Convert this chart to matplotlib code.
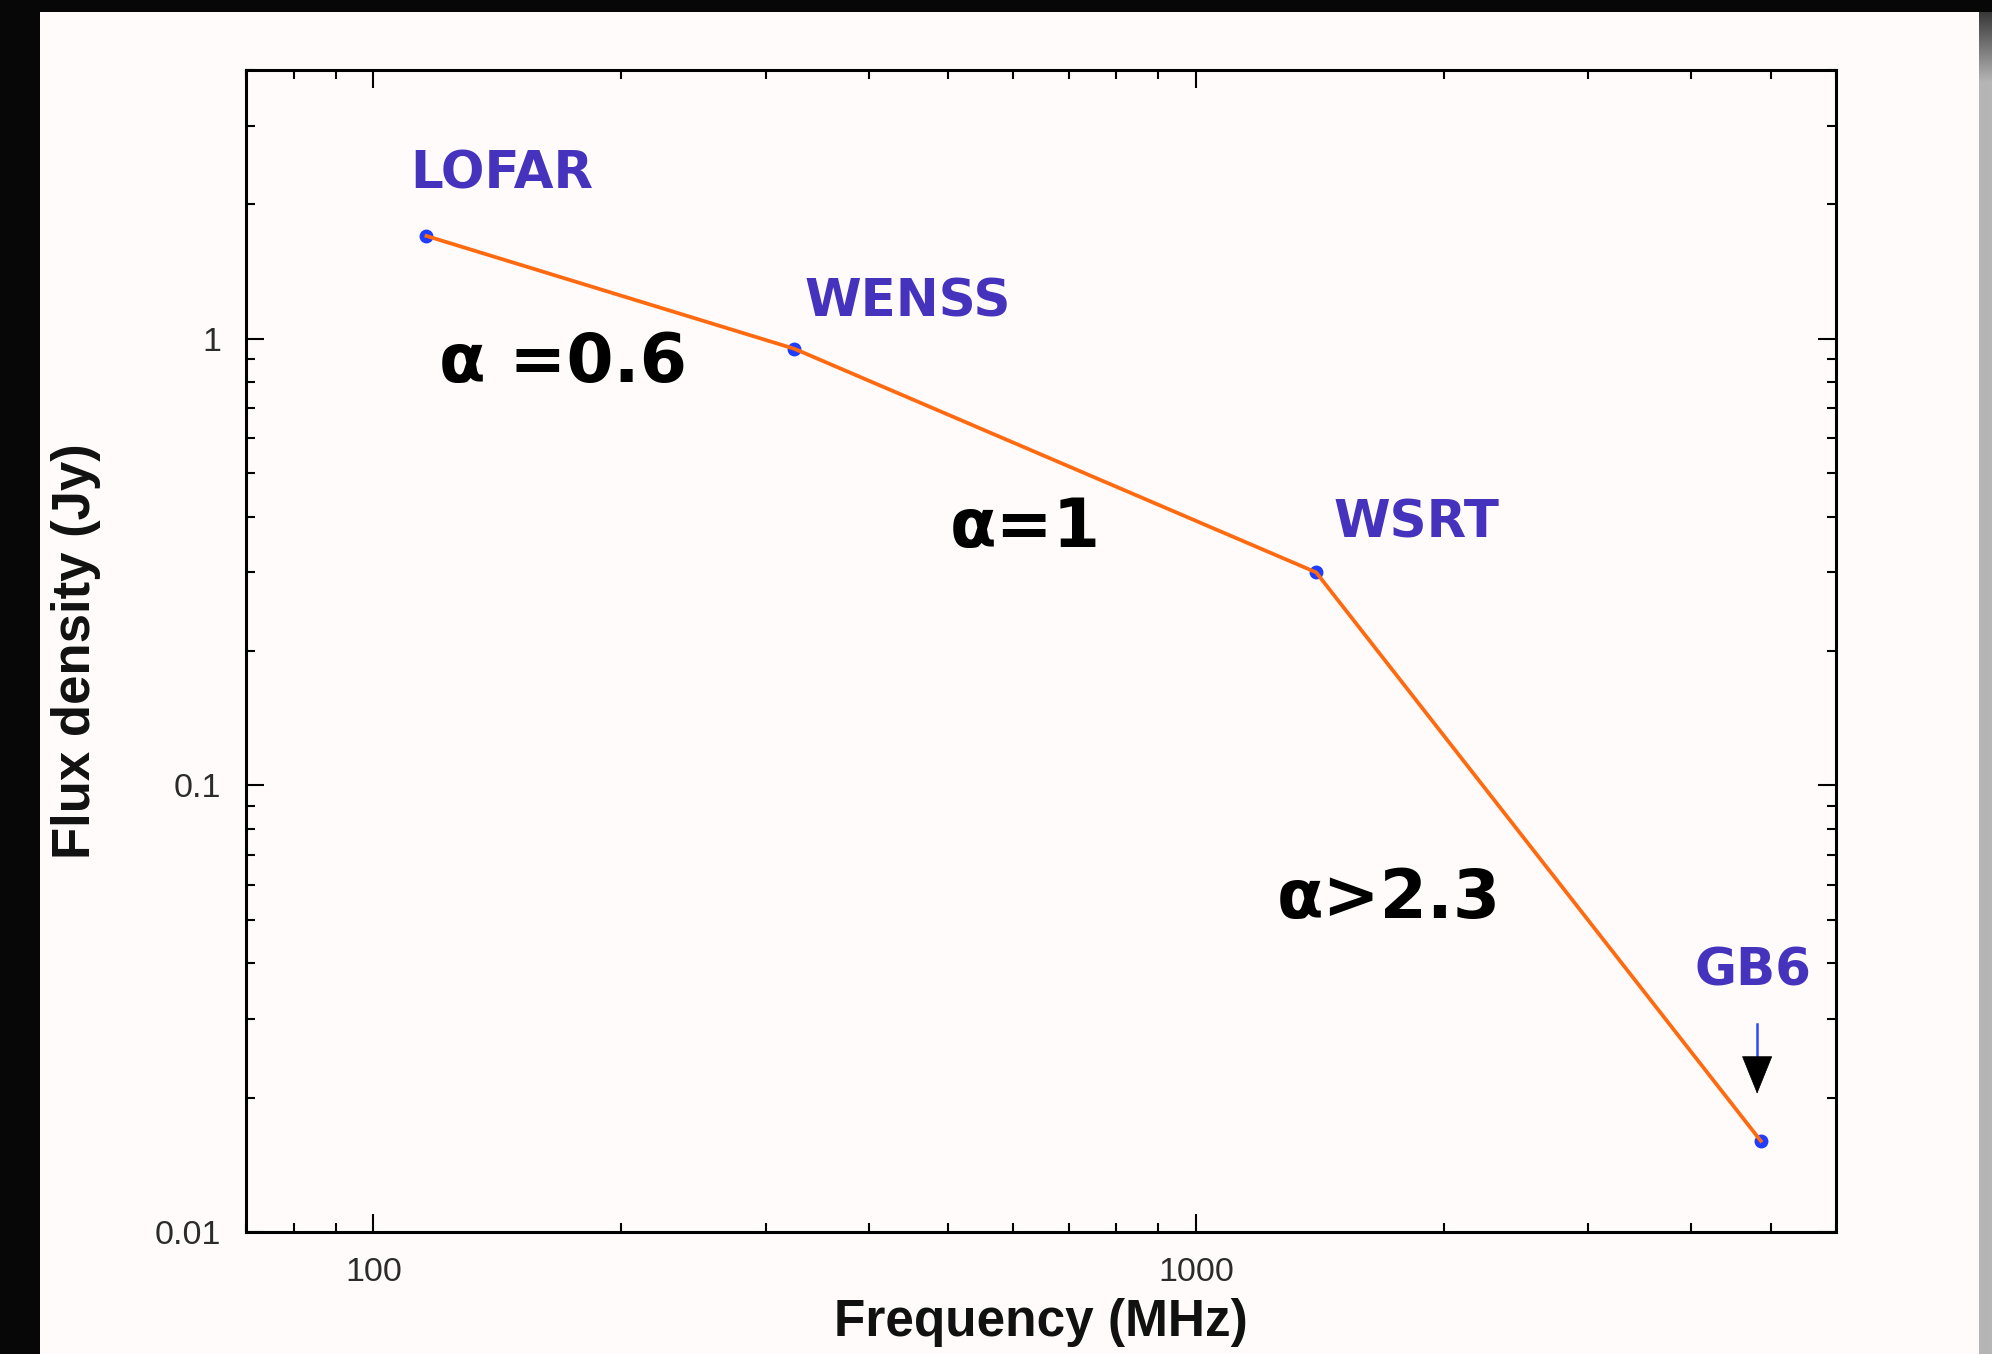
import numpy as np
import matplotlib
matplotlib.use("Agg")
import matplotlib.pyplot as plt
from matplotlib.patches import Rectangle, FancyArrowPatch, ArrowStyle
from matplotlib.ticker import LogLocator, FixedLocator, NullFormatter

# survey points (MHz, Jy)
surveys = ["LOFAR", "WENSS", "WSRT", "GB6"]
freq = [116, 325, 1400, 4860]
flux = [1.70, 0.95, 0.30, 0.016]

# label anchors (left edge / baseline) in data units
label_x = [111, 334, 1470, 4040]
label_y = [2.17, 1.12, 0.360, 0.0356]

# spectral index notes
alpha_text = ["\u03b1 =0.6", "\u03b1=1", "\u03b1>2.3"]
alpha_x = [120, 502, 1254]
alpha_y = [0.800, 0.342, 0.0504]

# GB6 upper-limit arrow (shaft top, head base, tip)
arrow_y = [0.0292, 0.0244, 0.0204]

xticks = [100, 1000]
xticklabels = ["100", "1000"]
yticks = [0.01, 0.1, 1]
yticklabels = ["0.01", "0.1", "1"]

W, H = 1992, 1354
fig = plt.figure(figsize=(W / 100, H / 100), dpi=100)
fig.patch.set_facecolor("#070707")

panel = "#fffbfa"
fig.patches.append(Rectangle((40 / W, 0), (1979 - 40) / W, (H - 12) / H,
                             transform=fig.transFigure, facecolor=panel,
                             edgecolor="none", zorder=-10))
# grey strip on the right
sax = fig.add_axes([1979 / W, 0, (W - 1979) / W, (H - 12) / H])
rows = np.arange(H - 12)
shade = np.clip(0.22 + (0.71 - 0.22) * rows / 70.0, 0, 0.71)
sax.imshow(np.repeat(shade[:, None], 4, axis=1), cmap="gray", vmin=0, vmax=1,
           aspect="auto", interpolation="bilinear")
sax.axis("off")

ax = fig.add_axes([246 / W, (H - 1232) / H, (1836 - 246) / W, (1232 - 70) / H])
ax.set_facecolor(panel)
ax.set_xscale("log")
ax.set_yscale("log")
ax.set_xlim(70, 6000)
ax.set_ylim(0.01, 4)

ax.plot(freq, flux, linestyle="none", marker="o", markersize=9,
        color="#1f3dff", zorder=3)
ax.plot(freq, flux, color="#ff6a10", lw=2.7, zorder=4)

for name, x, y in zip(surveys, label_x, label_y):
    ax.text(x, y, name, color="#4633bd", fontsize=37, fontweight="bold",
            family="DejaVu Sans", ha="left", va="baseline")

for t, x, y in zip(alpha_text, alpha_x, alpha_y):
    ax.text(x, y, t, color="black", fontsize=49, fontweight="bold",
            family="DejaVu Sans", ha="left", va="baseline")

xa = freq[-1] * 0.99
ax.plot([xa, xa], [arrow_y[0], arrow_y[1]], color="#2a4cff", lw=1.8, zorder=5)
ax.add_patch(FancyArrowPatch((xa, arrow_y[1]), (xa, arrow_y[2]),
                             arrowstyle=ArrowStyle("-|>", head_length=2.6, head_width=1.05),
                             mutation_scale=10, color="black", lw=0.5,
                             shrinkA=0, shrinkB=0, zorder=5))

ax.xaxis.set_major_locator(FixedLocator(xticks))
ax.set_xticklabels(xticklabels)
ax.xaxis.set_minor_locator(LogLocator(base=10, subs=np.arange(2, 10)))
ax.xaxis.set_minor_formatter(NullFormatter())
ax.yaxis.set_major_locator(FixedLocator(yticks))
ax.set_yticklabels(yticklabels)
ax.yaxis.set_minor_locator(LogLocator(base=10, subs=np.arange(2, 10)))
ax.yaxis.set_minor_formatter(NullFormatter())

ax.tick_params(which="both", direction="in", top=True, right=True,
               color="black", width=1.5)
ax.tick_params(which="major", length=13)
ax.tick_params(which="minor", length=6.5)
ax.tick_params(axis="x", which="major", pad=18, labelsize=24.5, labelcolor="#2b2b2b")
ax.tick_params(axis="y", which="major", pad=18, labelsize=24.5, labelcolor="#2b2b2b")
for lab in ax.get_xticklabels() + ax.get_yticklabels():
    lab.set_family("Liberation Sans")
for sp in ax.spines.values():
    sp.set_linewidth(2.2)

ax.set_xlabel("Frequency (MHz)", fontsize=37, fontweight="bold",
              family="Liberation Sans", color="#111111")
ax.xaxis.set_label_coords(0.5, -0.057)
ax.set_ylabel("Flux density (Jy)", fontsize=38, fontweight="bold",
              family="Liberation Sans", color="#111111")
ax.yaxis.set_label_coords(-0.091, 0.5)

fig.savefig("out.png", dpi=100, facecolor=fig.get_facecolor())
